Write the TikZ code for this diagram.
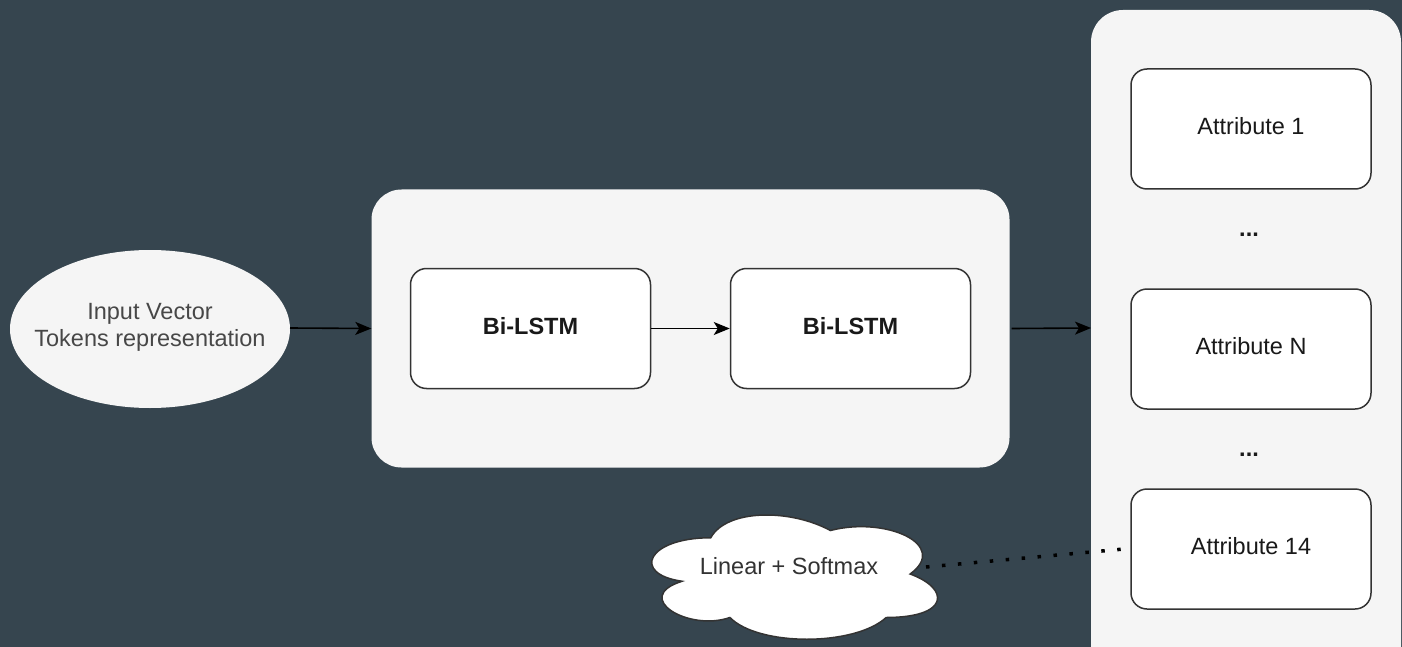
\documentclass[tikz,border=0pt]{standalone}
\usepackage{fontspec}
\setmainfont{Liberation Sans}
\usetikzlibrary{arrows.meta,calc}
\definecolor{bgc}{HTML}{36454F}
\definecolor{panel}{HTML}{F5F5F5}
\definecolor{edge}{HTML}{333333}
\tikzset{
  panelbox/.style={fill=panel, draw=none, rounded corners=30pt},
  innerbox/.style={fill=white, draw=edge, line width=1.5pt, rounded corners=16pt,
    minimum width=240pt, minimum height=120pt, text depth=6pt,
    font=\fontsize{23.5}{28}\selectfont, text=black!90},
  boldbox/.style={innerbox, font=\fontsize{23.5}{28}\selectfont\bfseries},
  conn/.style={draw=black, line width=1.6pt, -{Stealth[length=16pt,width=13pt,inset=4pt]}},
  dotconn/.style={draw=black, line width=3.5pt, dash pattern=on 3.5pt off 12.5pt},
  plain/.style={font=\fontsize{23.5}{28}\selectfont, align=center},
  dots/.style={font=\fontsize{23.5}{28}\selectfont\bfseries, text=black!90},
}
\begin{document}
\begin{tikzpicture}[x=1pt,y=-1pt]
\fill[bgc] (0,0) rectangle (1402,647);
\useasboundingbox (0,0) rectangle (1402,647);

% panels
\node[panelbox, minimum width=638pt, minimum height=278pt, inner sep=0pt] (mid) at (690.5,328.5) {};
\begin{scope}
\clip (0,0) rectangle (1402,647);
\fill[panel, rounded corners=32pt] (1091,10) rectangle (1401,680);
\end{scope}
\coordinate (rpw) at (1091,328);

% input ellipse
\fill[panel] (150,329) ellipse [x radius=140, y radius=79];
\node[plain, text=black!72] (inp) at (150,327) {Input Vector\\[-1pt]Tokens representation};
\coordinate (inpE) at (290,328);

% Bi-LSTM boxes
\node[boldbox] (b1) at (530.5,328.5) {Bi-LSTM};
\node[boldbox] (b2) at (850.5,328.5) {Bi-LSTM};

% attributes
\node[innerbox] (a1) at (1251,129) {Attribute 1};
\node[innerbox] (aN) at (1251,349) {Attribute N};
\node[innerbox] (a14) at (1251,549) {Attribute 14};
\node[dots] (d1) at (1249,235) {...};
\node[dots] (d2) at (1249,455) {...};

% cloud
\begin{scope}[shift={(631,501.5)}, x=319pt, y=-145pt]
\filldraw[fill=white, draw=edge, line width=1.5pt]
  (0.25,0.25) .. controls (0.05,0.25) and (0,0.5) .. (0.16,0.55)
  .. controls (0,0.66) and (0.18,0.9) .. (0.31,0.8)
  .. controls (0.4,1) and (0.7,1) .. (0.8,0.8)
  .. controls (1,0.8) and (1,0.6) .. (0.875,0.5)
  .. controls (1,0.3) and (0.8,0.1) .. (0.625,0.2)
  .. controls (0.5,0.05) and (0.3,0.05) .. (0.25,0.25) -- cycle;
\end{scope}
\node[plain, text=black!80] (cl) at (789,566) {Linear + Softmax};
\coordinate (clE) at (926,567);
\coordinate (a14W) at (1124,549);

% connectors
\coordinate (midE) at ($(mid.east)+(2,0)$);
\draw[conn] (inpE) -- (mid.west);
\draw[conn] (b1) -- (b2);
\draw[conn] (midE) -- (rpw);
\draw[dotconn] (clE) -- (a14W);
\end{tikzpicture}
\end{document}
